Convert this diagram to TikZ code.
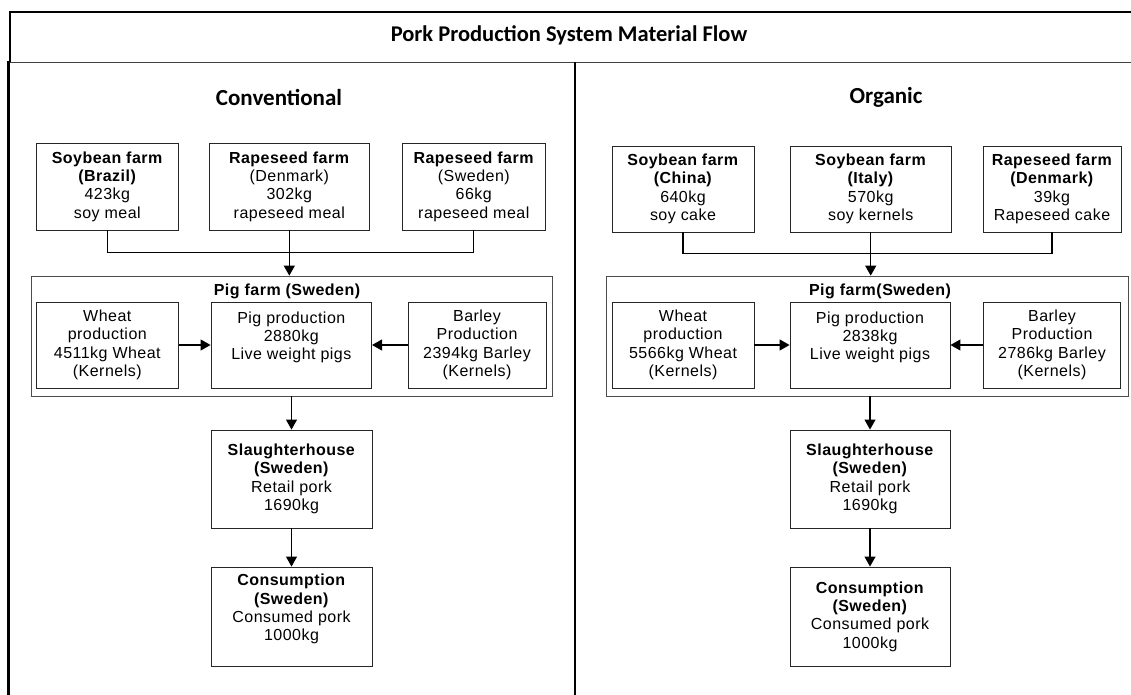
\documentclass[tikz,border=0pt]{standalone}
\usepackage{fontspec}
\setmainfont{Liberation Sans}[LetterSpace=3]
\newfontfamily\headfont{Carlito}
\usetikzlibrary{arrows.meta}

\tikzset{
  box/.style={draw=black!85, line width=0.9pt, align=center, inner sep=0pt,
    font=\fontsize{16}{18.3}\selectfont},
  group/.style={draw=black!70, line width=0.7pt, inner sep=0pt},
  grouptitle/.style={font=\bfseries\fontsize{16}{18}\selectfont},
  head/.style={font=\headfont\bfseries\fontsize{23}{27}\selectfont},
  link/.style={line width=1.1pt},
  flow/.style={line width=1.1pt, -{Triangle[width=11pt,length=10pt]}},
}

\begin{document}
\begin{tikzpicture}[x=1pt, y=-1pt]
\useasboundingbox (0,0) rectangle (1131,695);
\draw[line width=2pt] (10,62) -- (10,12) -- (1131,12);
\draw[line width=0.8pt, black!75] (10,62) -- (1131,62);
\draw[line width=3pt] (8.5,61) -- (8.5,695);
\draw[line width=1.5pt] (575,62) -- (575,695);

\node[head, font=\headfont\bfseries\fontsize{22.5}{26}\selectfont] (title) at (569,35) {Pork Production System Material Flow};
\node[head] (conv) at (279,97) {Conventional};
\node[head] (org) at (886,97) {Organic};

\node[box, minimum width=142.5pt, minimum height=87pt] (cSoy) at (107.3,186.5) {\textbf{Soybean farm}\\\textbf{(Brazil)}\\423kg\\soy meal};
\node[box, minimum width=160.5pt, minimum height=87pt] (cRapeDK) at (289.3,186.5) {\textbf{Rapeseed farm}\\(Denmark)\\302kg\\rapeseed meal};
\node[box, minimum width=142.5pt, minimum height=87pt] (cRapeSE) at (473.8,186.5) {\textbf{Rapeseed farm}\\(Sweden)\\66kg\\rapeseed meal};
\node[group, minimum width=521pt, minimum height=120pt] (cFarm) at (291.5,336) {};
\node[grouptitle] (cFarmTxt) at (287,291) {Pig farm (Sweden)};
\node[box, minimum width=142.5pt, minimum height=86pt] (cWheat) at (107.3,345) {Wheat\\production\\4511kg Wheat\\(Kernels)};
\node[box, minimum width=160.6pt, minimum height=86pt] (cPig) at (291.3,345) {Pig production\\2880kg\\Live weight pigs\\~};
\node[box, minimum width=138pt, minimum height=86pt] (cBarley) at (477,345) {Barley\\Production\\2394kg Barley\\(Kernels)};
\node[box, minimum width=161pt, minimum height=98pt] (cSlaughter) at (291.5,479) {\textbf{Slaughterhouse}\\\textbf{(Sweden)}\\Retail pork\\1690kg};
\node[box, minimum width=161pt, minimum height=99pt] (cConsume) at (291.5,616.5) {\textbf{Consumption}\\\textbf{(Sweden)}\\Consumed pork\\1000kg\\~};

\draw[link] (cSoy.south) -- ++(0,22) -| (cRapeSE.south);
\draw[flow] (cRapeDK.south) -- (cRapeDK.south |- cFarm.north);
\draw[flow] (cWheat) -- (cPig);
\draw[flow] (cBarley) -- (cPig);
\draw[flow] (cFarm.south) -- (cSlaughter.north);
\draw[flow] (cSlaughter) -- (cConsume);

\node[box, minimum width=142pt, minimum height=86pt] (oSoyCN) at (683,189) {\textbf{Soybean farm}\\\textbf{(China)}\\640kg\\soy cake};
\node[box, minimum width=160.5pt, minimum height=86pt] (oSoyIT) at (870.7,189) {\textbf{Soybean farm}\\\textbf{(Italy)}\\570kg\\soy kernels};
\node[box, minimum width=138pt, minimum height=86pt] (oRapeDK) at (1052,189) {\textbf{Rapeseed farm}\\\textbf{(Denmark)}\\39kg\\Rapeseed cake};
\node[group, minimum width=522pt, minimum height=120pt] (oFarm) at (867.5,336) {};
\node[grouptitle] (oFarmTxt) at (880,291) {Pig farm(Sweden)};
\node[box, minimum width=142pt, minimum height=86pt] (oWheat) at (683,345) {Wheat\\production\\5566kg Wheat\\(Kernels)};
\node[box, minimum width=160pt, minimum height=86pt] (oPig) at (870,345) {Pig production\\2838kg\\Live weight pigs\\~};
\node[box, minimum width=137.5pt, minimum height=86pt] (oBarley) at (1052,345) {Barley\\Production\\2786kg Barley\\(Kernels)};
\node[box, minimum width=160pt, minimum height=98pt] (oSlaughter) at (870,479) {\textbf{Slaughterhouse}\\\textbf{(Sweden)}\\Retail pork\\1690kg};
\node[box, minimum width=160pt, minimum height=99pt] (oConsume) at (870,616.5) {\textbf{Consumption}\\\textbf{(Sweden)}\\Consumed pork\\1000kg};

\draw[link] (oSoyCN.south) -- ++(0,21) -| (oRapeDK.south);
\draw[flow] (oSoyIT.south) -- (oSoyIT.south |- oFarm.north);
\draw[flow] (oWheat) -- (oPig);
\draw[flow] (oBarley) -- (oPig);
\draw[flow] (oSlaughter.north |- oFarm.south) -- (oSlaughter.north);
\draw[flow] (oSlaughter) -- (oConsume);
\end{tikzpicture}
\end{document}
